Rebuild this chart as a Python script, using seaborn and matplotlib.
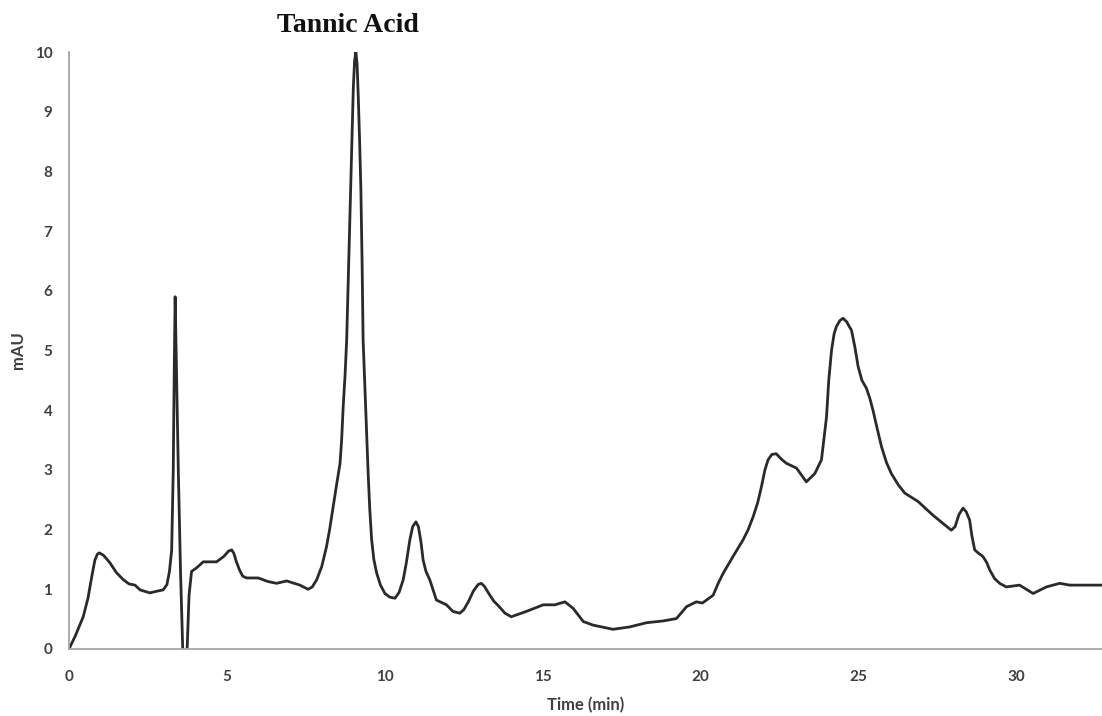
import matplotlib
matplotlib.use("Agg")
import matplotlib.pyplot as plt
import seaborn as sns
import pandas as pd

# Retention time (min) and detector response (mAU)
time_min = [0.00, 0.20, 0.45, 0.60, 0.72, 0.82, 0.90, 0.96, 1.09, 1.19, 1.30, 1.50,
            1.72, 1.90, 2.09, 2.25, 2.56, 2.80, 2.98, 3.10, 3.18, 3.25, 3.30, 3.33,
            3.36, 3.39, 3.46, 3.53, 3.60, 3.67, 3.74, 3.80, 3.88, 4.04, 4.25, 4.67,
            4.90, 5.05, 5.15, 5.22, 5.30, 5.40, 5.50, 5.62, 5.99, 6.30, 6.57, 6.89,
            7.31, 7.57, 7.70, 7.84, 8.00, 8.15, 8.25, 8.36, 8.47, 8.58, 8.63, 8.68,
            8.74, 8.79, 8.85, 8.91, 8.96, 9.00, 9.04, 9.08, 9.12, 9.16, 9.20, 9.24,
            9.28, 9.31, 9.37, 9.42, 9.47, 9.52, 9.58, 9.65, 9.74, 9.86, 10.00, 10.15,
            10.32, 10.45, 10.58, 10.68, 10.79, 10.88, 10.98, 11.06, 11.14, 11.21, 11.30, 11.42,
            11.63, 11.95, 12.15, 12.37, 12.50, 12.65, 12.80, 12.95, 13.05, 13.15, 13.30, 13.45,
            13.60, 13.80, 14.00, 14.48, 15.01, 15.38, 15.70, 15.96, 16.28, 16.59, 17.22, 17.75,
            18.28, 18.81, 19.23, 19.55, 19.86, 20.05, 20.39, 20.55, 20.71, 21.02, 21.34, 21.50,
            21.66, 21.80, 21.92, 22.03, 22.13, 22.25, 22.39, 22.55, 22.71, 23.03, 23.34, 23.61,
            23.82, 23.98, 24.05, 24.14, 24.22, 24.29, 24.40, 24.50, 24.62, 24.70, 24.77, 24.88,
            24.98, 25.10, 25.24, 25.35, 25.45, 25.58, 25.72, 25.88, 26.03, 26.25, 26.46, 26.88,
            27.35, 27.93, 28.05, 28.17, 28.30, 28.40, 28.51, 28.58, 28.67, 28.80, 28.93, 29.05,
            29.15, 29.30, 29.46, 29.67, 30.09, 30.52, 30.94, 31.36, 31.68, 32.70]
mau = [0.00, 0.22, 0.54, 0.85, 1.21, 1.49, 1.59, 1.61, 1.57, 1.51, 1.44, 1.28,
       1.16, 1.09, 1.07, 0.99, 0.94, 0.97, 0.99, 1.08, 1.30, 1.66, 3.00, 4.60,
       5.90, 5.00, 3.00, 1.30, 0.00, -1.20, 0.00, 0.90, 1.30, 1.36, 1.46, 1.46,
       1.55, 1.64, 1.66, 1.60, 1.46, 1.32, 1.22, 1.19, 1.19, 1.13, 1.10, 1.14,
       1.07, 1.00, 1.04, 1.16, 1.38, 1.71, 2.00, 2.38, 2.75, 3.11, 3.50, 4.06,
       4.60, 5.18, 6.40, 7.69, 8.70, 9.40, 9.85, 10.00, 9.80, 9.20, 8.50, 7.69,
       6.40, 5.18, 4.34, 3.60, 2.94, 2.35, 1.83, 1.50, 1.27, 1.07, 0.93, 0.87,
       0.85, 0.95, 1.16, 1.45, 1.83, 2.05, 2.13, 2.05, 1.80, 1.49, 1.30, 1.16,
       0.82, 0.74, 0.63, 0.60, 0.66, 0.80, 0.97, 1.08, 1.10, 1.05, 0.92, 0.80,
       0.72, 0.60, 0.54, 0.63, 0.74, 0.74, 0.79, 0.68, 0.46, 0.40, 0.33, 0.37,
       0.44, 0.47, 0.51, 0.71, 0.79, 0.77, 0.90, 1.10, 1.27, 1.55, 1.83, 2.00,
       2.22, 2.45, 2.72, 3.00, 3.17, 3.26, 3.27, 3.18, 3.11, 3.03, 2.80, 2.94,
       3.17, 3.89, 4.50, 5.01, 5.28, 5.40, 5.50, 5.54, 5.48, 5.40, 5.34, 5.05,
       4.73, 4.50, 4.37, 4.20, 4.00, 3.70, 3.39, 3.12, 2.94, 2.75, 2.61, 2.47,
       2.24, 1.99, 2.05, 2.25, 2.36, 2.30, 2.16, 1.90, 1.66, 1.60, 1.55, 1.45,
       1.32, 1.18, 1.10, 1.04, 1.07, 0.93, 1.04, 1.10, 1.07, 1.07]

x_ticks = [0, 5, 10, 15, 20, 25, 30]
y_ticks = [0, 1, 2, 3, 4, 5, 6, 7, 8, 9, 10]
title_text = "Tannic Acid"
x_label = "Time (min)"
y_label = "mAU"

sns.set_style("white")
plt.rcParams["font.family"] = ["Lato", "DejaVu Sans"]

df = pd.DataFrame({"t": time_min, "mAU": mau})

fig = plt.figure(figsize=(11.02, 7.16), dpi=100)
ax = fig.add_axes([69 / 1102, 1 - 649 / 716, (1102 - 69) / 1102, (649 - 52) / 716])

sns.lineplot(data=df, x="t", y="mAU", ax=ax, color="#2a2a2a", linewidth=2.0,
             sort=False, estimator=None)
ax.lines[0].set_solid_joinstyle("round")

ax.set_xlim(0, 32.7)
ax.set_ylim(0, 10)
ax.set_xticks(x_ticks)
ax.set_yticks(y_ticks)

for side in ["top", "right"]:
    ax.spines[side].set_visible(False)
for side in ["left", "bottom"]:
    ax.spines[side].set_color("#a6a6a6")
    ax.spines[side].set_linewidth(1.3)

ax.tick_params(axis="both", direction="in", length=4, width=1.0, color="#a6a6a6",
               labelsize=11, labelcolor="#404040")
ax.tick_params(axis="y", pad=12)
ax.tick_params(axis="x", pad=15)
for lbl in ax.get_xticklabels() + ax.get_yticklabels():
    lbl.set_fontweight("bold")

ax.set_xlabel(x_label, fontsize=12, fontweight="bold", color="#404040")
ax.set_ylabel(y_label, fontsize=12, fontweight="bold", color="#404040")
ax.xaxis.set_label_coords(0.5, -(705 - 649) / 597)
ax.xaxis.label.set_va("center")
ax.yaxis.set_label_coords(-(69 - 18) / 1033, 0.5)
ax.yaxis.label.set_va("center")

fig.text(348 / 1102, 1 - 25 / 716, title_text, ha="center", va="center",
         fontsize=20, fontweight="bold", family=["Liberation Serif", "DejaVu Serif"],
         color="#111111")

fig.savefig("out.png", dpi=100)
